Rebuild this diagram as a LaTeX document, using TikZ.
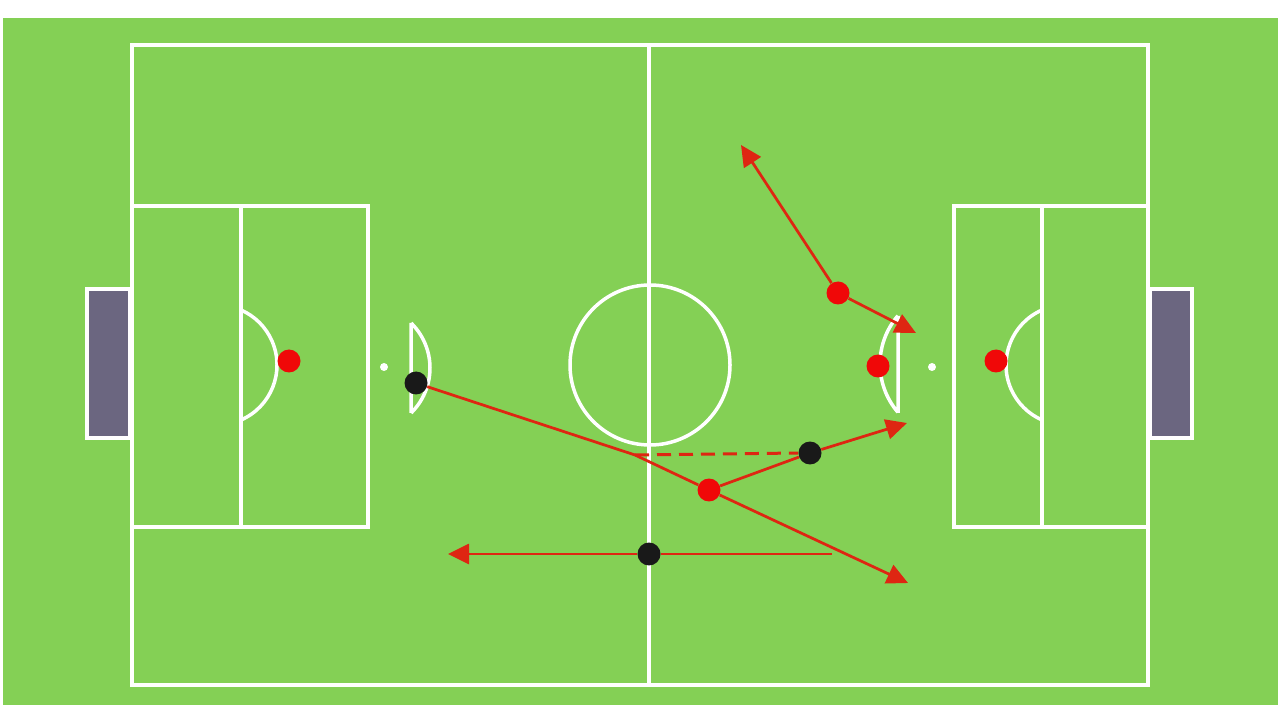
\documentclass[tikz,border=0pt]{standalone}
\usetikzlibrary{arrows.meta}
\definecolor{pitch}{RGB}{132,208,85}
\definecolor{goalgray}{RGB}{107,102,128}
\definecolor{runred}{RGB}{222,38,18}
\definecolor{dotred}{RGB}{240,8,8}

\begin{document}
\begin{tikzpicture}[x=0.02cm,y=0.02cm,
  mark line/.style={white,line width=0.07cm},
  player/.style={circle,fill=dotred,minimum size=0.46cm,inner sep=0pt},
  foe/.style={player,fill=black!90},
  run/.style={draw=runred,line width=0.055cm,-{Triangle[length=0.42cm,width=0.4cm]}}]
\useasboundingbox[fill=white] (0,0) rectangle (1280,720);
\fill[pitch] (3,15) rectangle (1278,702);
% lines
\draw[mark line] (132,35) rectangle (1148,675);
\draw[mark line] (649,35) -- (649,675);
\draw[mark line] (650,355) circle (80);
\draw[mark line] (132,193) rectangle (368,514) (241,193) -- (241,514);
\draw[mark line] (1148,193) rectangle (954,514) (1042,193) -- (1042,514);
\draw[mark line] (217,355) ++(-66.4:60) arc[start angle=-66.4,end angle=66.4,radius=60];
\draw[mark line] (1066,355) ++(113.6:60) arc[start angle=113.6,end angle=246.4,radius=60];
\draw[mark line] (411,307) -- (411,397) (367,352) ++(45.6:63) arc[start angle=45.6,end angle=-45.6,radius=63];
\draw[mark line] (898,307) -- (898,404) (954,356) ++(139.3:74) arc[start angle=139.3,end angle=220.7,radius=74];
\fill[white] (384,353) circle (4) (932,353) circle (4);
% goals
\draw[white,line width=0.09cm,fill=goalgray] (87,282) rectangle (130,431);
\draw[white,line width=0.09cm,fill=goalgray] (1150,282) rectangle (1192,431);
% players
\node[player] (gkL) at (289,359) {};
\node[foe] (bA) at (416,337) {};
\node[player] (rMid) at (709,230) {};
\node[foe] (bMid) at (810,267) {};
\node[foe] (bC) at (649,166) {};
\node[player] (rUp) at (838,427) {};
\node[player] (rD) at (878,354) {};
\node[player] (gkR) at (996,359) {};
\coordinate (kink) at (635,265);
\coordinate (corner) at (832,166);
\coordinate (tipN) at (741,575);
\coordinate (tipNE) at (916,387);
\coordinate (tipSE) at (908,137);
\coordinate (tipE) at (907,297);
\coordinate (tipW) at (448,166);
% runs
\draw[run] (rUp) -- (tipN);
\draw[run] (rUp) -- (tipNE);
\draw[run] (bA) -- (kink) -- (rMid) -- (tipSE);
\draw[runred,line width=0.06cm,dash pattern=on 0.28cm off 0.16cm] (kink) -- (bMid.west);
\draw[run] (rMid) -- (bMid) -- (tipE);
\draw[run] (corner) -- (bC) -- (tipW);
\end{tikzpicture}
\end{document}
